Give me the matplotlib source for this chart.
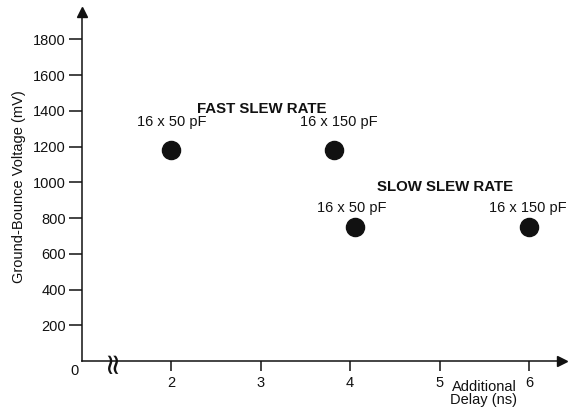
import numpy as np
import matplotlib
matplotlib.use("Agg")
import matplotlib.pyplot as plt

plt.rcParams['font.family'] = ['Liberation Sans', 'DejaVu Sans']
plt.rcParams['font.size'] = 10.5

# ground bounce vs additional delay
delay = [2.0, 3.82, 4.05, 6.0]           # ns
voltage = [1180, 1180, 750, 750]         # mV
point_labels = ["16 x 50 pF", "16 x 150 pF", "16 x 50 pF", "16 x 150 pF"]
group_names = ["FAST SLEW RATE", "SLOW SLEW RATE"]

yticks = [200, 400, 600, 800, 1000, 1200, 1400, 1600, 1800]
xticks = [2, 3, 4, 5, 6]

ink = '#111111'

fig = plt.figure(figsize=(5.73, 4.08), dpi=100)
ax = fig.add_axes([82/573, 47/408, 480/573, 349/408])

ax.scatter(delay, voltage, s=170, color=ink, zorder=3)

# label positions (data coords)
lab_pos = [(2.0, 1314), (3.87, 1314), (4.02, 836), (5.99, 836)]
for (lx, ly), txt in zip(lab_pos, point_labels):
    ax.text(lx, ly, txt, ha='center', va='baseline', color=ink)
ax.text(3.01, 1388, group_names[0], ha='center', va='baseline',
        fontweight='bold', fontsize=10.8, color=ink)
ax.text(5.06, 954, group_names[1], ha='center', va='baseline',
        fontweight='bold', fontsize=10.8, color=ink)

ax.set_xlim(1.0, 6.37)
ax.set_ylim(0, 1953)
ax.set_xticks(xticks)
ax.set_yticks(yticks)

for s in ['top', 'right']:
    ax.spines[s].set_visible(False)
for s in ['left', 'bottom']:
    ax.spines[s].set_linewidth(1.1)
    ax.spines[s].set_color(ink)

ax.tick_params(axis='y', direction='out', length=9.5, width=1.1, pad=2, colors=ink)
ax.tick_params(axis='x', direction='out', length=7.5, width=1.1, pad=3, colors=ink)

# arrow heads
ax.plot(1, 0, marker='>', ms=7, color=ink, transform=ax.transAxes, clip_on=False)
ax.plot(0, 1, marker='^', ms=7, color=ink, transform=ax.transAxes, clip_on=False)

# origin label and axis break
ax.text(-0.015, -0.028, "0", transform=ax.transAxes, ha='center', va='center', color=ink)
ax.text(0.0625, 0.0, "\u2248", transform=ax.transAxes, ha='center', va='center',
        rotation=90, fontsize=21, color=ink, family='DejaVu Sans')

ax.set_ylabel("Ground-Bounce Voltage (mV)", va='center', color=ink)
ax.yaxis.set_label_coords(-0.131, 0.5)

fig.text(484/573, 1 - 380/408, "Additional\nDelay (ns)", ha='center', va='top',
         linespacing=0.95, color=ink)

fig.savefig("out.png", dpi=100)
